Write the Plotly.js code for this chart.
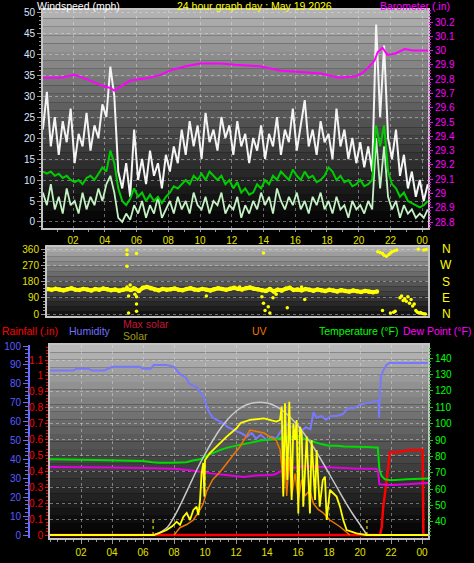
<!DOCTYPE html>
<html><head><meta charset="utf-8">
<script src="https://cdn.plot.ly/plotly-3.0.1.min.js"></script>
<style>html,body{margin:0;padding:0;background:#000;overflow:hidden}#chart{width:474px;height:563px}</style>
</head><body><div id="chart"></div>
<script>
// ---------------- DATA ----------------
const hourTickVals = [2,4,6,8,10,12,14,16,18,20,22,24];
const hourTickText = ['02','04','06','08','10','12','14','16','18','20','22','00'];

// wind (mph), one reading every 15 minutes starting 00:06
const windStart = 0.1, windStep = 0.25;
const windGust = [22,31,18,25,16,24,19,27,14,21, 18,26,17,23,20,28,25,37,30,12, 8,14,6,22,10,15,9,17,11,14,
  8,16,12,18,14,22,16,24,18,23, 15,26,19,22,17,25,20,23,16,24, 18,21,14,20,17,23,15,21,18,25,
  16,22,19,27,17,23,29,18,22,16, 24,19,21,15,27,18,22,15,20,14, 19,13,18,12,47,25,42,20,15,22,
  11,16,8,12,6,10,5,9];
const windAvg = [12,11.5,12,11,11.5,10.5,11,10,9.5,10, 9,10.5,11,10,11.5,13,12,17,14,8, 5,4,5.5,8,6,7,5,6.5,5,6,
  4.5,6,7,8.5,8,9,10,9,11,10, 11.5,10,12,11,10,11,9,10,8,9.5, 7,8,6.5,7,9,8,10,9,11,10,
  12,11,10,12.5,11,10,12,10.5,11,9.5, 10,11,13,12,10,11,9.5,10,8.5,9, 10,8.5,9,10,23,18,23,12,9,8,
  6,7,5,4.5,4,3.5,4,5];
const windSpeed = [7,4,9,3,6,2,8,4,5,2, 7,3,6,4,8,5,9,11,7,1, 0,2,0.5,4,2,5,1,4,2,6,
  1,3,5,2,6,3,5,2,7,4, 3,6,2,5,4,7,2,4,3,6, 1,4,2,5,3,7,4,6,2,8,
  5,3,6,4,7,3,5,2,6,4, 7,3,5,2,6,3,4,1,5,3, 4,2,5,3,20,8,18,6,3,5,
  1,4,2,3,1,2,1,3];

// barometer (inHg)
const baroHours = [0.1,1.2,2.1,3.1,3.7,4.3,4.6,5.0,5.6,6.8,7.5,8.1,9.1,10.0,11.3,12.2,13.8,15.0,16.3,17.6,18.8,19.8,20.2,20.6,21.0,21.2,21.5,21.8,22.3,22.9,23.4,24.37];
const baroValues = [29.81,29.81,29.83,29.79,29.76,29.74,29.72,29.75,29.79,29.81,29.83,29.86,29.89,29.91,29.91,29.90,29.89,29.86,29.85,29.84,29.81,29.82,29.84,29.88,29.93,29.99,30.02,29.97,29.98,30.01,30.00,30.00];

// wind direction (degrees)
const dirStart = 0.4, dirStep = 0.25;
const dirBand = [138,134,140,136,131,137,142,135,133,139,136,130,138,134,141,137,132,136,129,134,
  138,133,140,128,145,150,142,136,131,139,134,137,141,135,132,138,143,136,133,139,
  135,130,137,142,138,134,140,145,139,136,143,147,140,137,132,128,138,125,135,130,
  140,145,133,136,131,138,134,129,136,132,127,134,130,125,132,128,124,130,126,122,
  128,123,120,124];
const dirOutHours = [5.4,5.4,6.0,5.4,5.4,5.6,5.8,5.5,5.9,6.0,6.0,5.5,6.0, 10.4,12.5,
  14.0,13.9,14.0,14.1,14.3,14.4,14.6,14.8, 15.5,16.6,16.4,
  21.2,21.35,21.5,21.6,21.75,21.9,22.0,22.1,22.25,22.4, 21.5,22.0,22.2,22.3,
  22.6,22.7,22.8,22.9,23.0,23.1,23.2,23.3,23.4,23.5, 23.6,23.7,23.8,23.9,24.0,24.1,24.2, 23.75,24.1,24.25];
const dirOutDeg = [354,330,335,265,150,160,145,100,110,95,55,5,15, 100,150,
  338,95,60,20,40,5,90,110, 35,80,150,
  345,340,335,325,320,330,338,345,350,355, 20,5,10,15,
  90,100,75,85,70,95,60,80,45,55, 20,10,5,8,3,2,0, 358,355,357];

// rainfall (in)
const rainHours = [0,21.29,21.4,21.5,21.61,21.72,21.83,21.94,22.37,23.23,24.04,24.09,24.39];
const rainValues = [0,0,0.05,0.18,0.26,0.35,0.47,0.52,0.52,0.535,0.535,0,0];

// humidity (%)
const humHours = [0,0.5,1.0,1.5,1.7,2.5,2.7,3.5,4.0,5.0,5.8,6.0,6.5,6.7,7.5,8.0,8.3,8.8,9.0,9.5,9.9,10.2,10.5,11.0,11.5,12.0,12.3,12.7,13.0,13.3,13.6,14.0,14.3,14.6,14.9,15.2,15.5,15.9,16.2,16.5,16.8,17.0,17.2,17.5,17.8,18.1,18.5,18.9,19.2,19.6,20.0,20.5,21.0,21.2,21.22,21.35,21.5,21.7,21.9,24.39];
const humValues = [87,87,87,87,88,88,87,87,89,89,89,88,88,90,90,89,86,83,80,78,73,66,62,60,57,55,54,52,54,51,53,50,52,51,55,59,57,58,55,57,56,65,62,63,61,63,63,64,67,67,69,70,71,71,62,84,87,90,91,91];

// temperature and dew point (°F)
const tempHours = [0,1,2,3,4,5,6,6.6,7,8,8.8,9.2,9.7,10.0,10.5,11.0,11.5,12.0,12.5,13.0,13.5,14.0,14.5,15.0,15.5,16.0,16.5,17.0,17.5,18.0,18.5,19.0,19.5,20.0,20.5,21.0,21.15,21.25,21.4,21.6,22.0,23.0,24.0,24.39];
const tempValues = [78.2,78.3,78.0,77.8,77.6,77.4,77.2,76.4,76.2,76.2,76.4,77.5,78.2,80,82,84,85.5,86.5,87.5,88.5,89.5,90,90.5,91.5,92,92,90.5,89,87.5,86.5,86.5,86,86,85.8,85.8,85.5,85.5,72,68,66,65.5,66,66.5,66.5];
const dewHours = [0,2,4,6,7,8,9,9.7,10.5,11.5,12.0,12.5,13.0,13.5,14.0,14.5,15.0,15.5,16.0,16.5,17.0,17.5,18.0,19.0,20.0,21.0,21.15,21.25,22.0,23.0,24.0,24.39];
const dewValues = [73.5,73.5,73.2,73,72.8,72.5,71.5,70.5,69.5,68.5,68,67.5,68,68.5,68.5,69,71.5,72.5,73.5,74,73.8,73.5,73,73,72.5,72.5,72,63,62.5,63,63.5,63.8];

// solar radiation (W/m²)
const maxSolarHours = [6.7,7.5,8.0,8.5,9.0,9.5,10.0,10.5,11.0,11.5,12.0,12.5,13.0,13.5,14.0,14.5,15.0,15.5,16.0,16.5,17.0,17.5,18.0,18.5,19.0,19.5,20.0,20.45];
const maxSolarValues = [0,45,120,220,330,440,540,630,710,775,825,860,878,885,880,862,830,785,728,660,585,500,410,320,230,145,70,0];
const solarHours = [0,6.7,7.0,7.53,7.9,8.17,8.39,8.6,8.82,9.03,9.25,9.46,9.57,9.68,9.78,9.89,9.96,10.0,10.3,10.75,11.4,12.05,12.3,12.9,13.8,14.6,14.84,14.95,15.05,15.16,15.31,15.44,15.59,15.70,15.81,15.91,16.02,16.13,16.24,16.34,16.56,16.77,16.88,17.1,17.2,17.4,17.6,17.74,17.85,18.06,18.28,18.49,18.71,18.92,19.14,19.78,20.4,24.39];
const solarValues = [0,0,10,33,60,89,67,120,147,100,167,189,133,233,411,480,256,500,544,589,656,713,747,767,778,756,767,856,256,878,367,889,233,744,633,767,144,722,678,189,656,144,633,233,567,189,367,389,100,300,278,256,189,100,33,11,0,0];

// UV index
const uvHours = [8.0,8.39,8.82,9.25,9.68,9.89,10.1,10.5,10.97,11.4,11.8,12.26,12.9,13.8,14.6,14.84,14.95,15.05,15.16,15.27,15.44,15.59,15.81,16.02,16.24,16.45,16.77,16.99,17.3,17.6,18.06,18.71,19.14,19.35];
const uvValues = [0,0.5,0.7,1.0,1.7,2.1,2.9,3.7,4.2,4.8,5.3,5.9,7.0,6.8,6.3,5.7,4.6,2.8,5.1,2.6,5.2,2.6,4.1,2.3,3.7,2.6,3.0,2.1,1.7,1.5,1.0,0.55,0.2,0];

// sunrise / sunset markers (hours)
const sunEvents = [6.65, 20.45];

// ---------------- CHART ----------------
const W = 474, H = 563;
const px = v => v / W;
const py = v => 1 - v / H;
const windHours = windGust.map((_, i) => windStart + windStep * i);
const dirHours = dirBand.map((_, i) => dirStart + dirStep * i);

const FONT = 'Liberation Sans, Arial, sans-serif';
const GRID = 'rgba(225,225,225,0.45)';
const FRAME = '#c4c4c4';

function bands(xref, yref, top, bottom, n) {
  const out = [];
  for (let i = 0; i < n; i++) {
    const f = Math.pow((i + 0.5) / n, 1.1);
    const c = Math.round(bottom + (top - bottom) * f);
    out.push({type:'rect', xref:xref, yref:yref, x0:0, x1:1, y0:i/n, y1:(i+1)/n,
      fillcolor:'rgb('+c+','+c+','+c+')', line:{width:0}, layer:'below'});
  }
  return out;
}

const traces = [
  {x:windHours, y:windGust, xaxis:'x', yaxis:'y', mode:'lines', line:{color:'#f4f4f4', width:2}},
  {x:windHours, y:windSpeed, xaxis:'x', yaxis:'y', mode:'lines', line:{color:'#c4f2c4', width:1.8}},
  {x:windHours, y:windAvg, xaxis:'x', yaxis:'y', mode:'lines', line:{color:'#00cc00', width:2}},
  {x:baroHours, y:baroValues, xaxis:'x', yaxis:'y2', mode:'lines', line:{color:'#ff00ff', width:2}},

  {x:dirHours, y:dirBand, xaxis:'x2', yaxis:'y3', mode:'lines+markers', line:{color:'#ffff00', width:4}, marker:{color:'#ffff00', size:4.5}},
  {x:dirOutHours, y:dirOutDeg, xaxis:'x2', yaxis:'y3', mode:'markers', marker:{color:'#ffff00', size:3.5}},

  {x:rainHours, y:rainValues, xaxis:'x3', yaxis:'y4', mode:'lines', line:{color:'#ff0000', width:2.5}},
  {x:humHours, y:humValues, xaxis:'x3', yaxis:'y5', mode:'lines', line:{color:'#7878ff', width:2}},
  {x:tempHours, y:tempValues, xaxis:'x3', yaxis:'y6', mode:'lines', line:{color:'#00dd00', width:2}},
  {x:dewHours, y:dewValues, xaxis:'x3', yaxis:'y6', mode:'lines', line:{color:'#e000e0', width:2}},
  {x:uvHours, y:uvValues, xaxis:'x3', yaxis:'y7', mode:'lines', line:{color:'#f07800', width:1.5}},
  {x:maxSolarHours, y:maxSolarValues, xaxis:'x3', yaxis:'y8', mode:'lines', line:{color:'#c8c8c8', width:1.5, shape:'spline'}},
  {x:solarHours, y:solarValues, xaxis:'x3', yaxis:'y8', mode:'lines', line:{color:'#ffff00', width:1.8}}
];
traces.forEach(t => { t.showlegend = false; t.hoverinfo = 'skip'; });

const tf = (c, s) => ({color:c, size:s || 10, family:FONT});

const layout = {
  width:W, height:H, margin:{l:0,r:0,t:0,b:0,pad:0},
  paper_bgcolor:'#000', plot_bgcolor:'#000', showlegend:false,
  font:{family:FONT, color:'#fff'},
  xaxis:{domain:[px(43),px(428)], range:[0.107,24.367], anchor:'y',
    tickmode:'array', tickvals:hourTickVals, ticktext:hourTickText, ticks:'outside', ticklen:2, tickcolor:'#9a9a9a',
    tickfont:tf('#e2e200'), showgrid:true, gridcolor:GRID, griddash:'dot', zeroline:false,
    showline:true, linecolor:FRAME, linewidth:2, mirror:true,
    minor:{tickmode:'linear', tick0:0, dtick:1, ticks:'outside', ticklen:2, tickcolor:'#9a9a9a', showgrid:false}},
  yaxis:{domain:[py(228),py(10)], range:[-1.43,50.48], anchor:'x', tick0:0, dtick:5,
    ticks:'outside', ticklen:4, tickcolor:'#9a9a9a', tickfont:tf('#dce6ff'),
    showgrid:true, gridcolor:GRID, griddash:'dot', zeroline:false,
    showline:true, linecolor:FRAME, linewidth:2, mirror:true,
    minor:{dtick:1, ticks:'outside', ticklen:2, tickcolor:'#9a9a9a', showgrid:false}},
  yaxis2:{overlaying:'y', anchor:'x', side:'right', range:[28.758,30.284], tick0:28.8, dtick:0.1,
    ticks:'outside', ticklen:4, tickcolor:'#ff00ff', tickfont:tf('#ff00ff'),
    showgrid:false, zeroline:false, showline:false,
    minor:{dtick:0.02, ticks:'outside', ticklen:2, tickcolor:'#ff00ff', showgrid:false}},

  xaxis2:{domain:[px(47),px(428)], range:[0.359,24.367], anchor:'y3', showticklabels:false, ticks:'',
    showgrid:false, zeroline:false, showline:true, linecolor:FRAME, linewidth:2, mirror:true},
  yaxis3:{domain:[py(316),py(247)], range:[-11.08,371.1], anchor:'x2', tickmode:'array', tickvals:[0,90,180,270,360],
    ticks:'outside', ticklen:4, tickcolor:'#9a9a9a', tickfont:tf('#e2e200'),
    showgrid:true, gridcolor:GRID, griddash:'dot', zeroline:false,
    showline:true, linecolor:FRAME, linewidth:2, mirror:true,
    minor:{tickmode:'linear', tick0:0, dtick:18, ticks:'outside', ticklen:2, tickcolor:'#9a9a9a', showgrid:false}},

  xaxis3:{domain:[px(50),px(428)], range:[0,24.387], anchor:'y4',
    tickmode:'array', tickvals:hourTickVals, ticktext:hourTickText, ticks:'outside', ticklen:4, tickcolor:'#9a9a9a',
    tickfont:tf('#e2e200'), showgrid:true, gridcolor:GRID, griddash:'dot', zeroline:false,
    showline:true, linecolor:FRAME, linewidth:2, mirror:true,
    minor:{tickmode:'linear', tick0:0, dtick:0.5, ticks:'outside', ticklen:2, tickcolor:'#9a9a9a', showgrid:false}},
  yaxis4:{domain:[py(538),py(345)], range:[-0.01886,1.1943], anchor:'x3', tick0:0, dtick:0.1,
    ticks:'outside', ticklen:3, tickcolor:'#ff0000', tickfont:tf('#ff0000'),
    showgrid:true, gridcolor:GRID, griddash:'dot', zeroline:false,
    showline:true, linecolor:FRAME, linewidth:2, mirror:true,
    minor:{dtick:0.02, ticks:'outside', ticklen:2, tickcolor:'#ff0000', showgrid:false}},
  yaxis5:{overlaying:'y4', anchor:'free', position:px(29), side:'left', range:[-1.587,100.53], tick0:0, dtick:10,
    ticks:'outside', ticklen:5, tickcolor:'#6a6aff', tickfont:tf('#5a5aff'),
    showline:true, linecolor:'#6a6aff', linewidth:2, showgrid:false, zeroline:false,
    minor:{dtick:2, ticks:'outside', ticklen:3, tickcolor:'#6a6aff', showgrid:false}},
  yaxis6:{overlaying:'y4', anchor:'x3', side:'right', range:[30.24,147.93], tickmode:'array',
    tickvals:[40,50,60,70,80,90,100,110,120,130,140],
    ticks:'outside', ticklen:4, tickcolor:'#00dd00', tickfont:tf('#00ff00'),
    showgrid:false, zeroline:false, showline:false,
    minor:{tickmode:'linear', tick0:0, dtick:2, ticks:'outside', ticklen:2, tickcolor:'#00cc00', showgrid:false}},
  yaxis7:{overlaying:'y4', anchor:'x3', range:[-0.2,12.667], visible:false},
  yaxis8:{overlaying:'y4', anchor:'x3', range:[-20,1266.7], visible:false},

  shapes: [].concat(
    bands('x domain','y domain',182,0,26),
    bands('x2 domain','y3 domain',176,16,14),
    bands('x3 domain','y4 domain',188,0,26),
    sunEvents.map(h => ({type:'line', xref:'x3', yref:'y4', x0:h, x1:h, y0:0, y1:0.1,
      line:{color:'#ffff00', width:1, dash:'dot'}, layer:'above'}))
  ),
  annotations: []
};

function label(text, x, y, color, anchor, size) {
  layout.annotations.push({xref:'paper', yref:'paper', x:px(x), y:py(y), xanchor:anchor || 'left', yanchor:'middle',
    text:text, showarrow:false, font:{color:color, size:size || 10.5, family:FONT}});
}
label('Windspeed (mph)', 35, 6, '#ffffff');
label('24 hour graph day : May 19 2026', 254, 6, '#ffff00', 'center');
label('Barometer (.in)', 378, 6, '#ff00ff');
label('Rainfall (.in)', 0, 331, '#ff0000');
label('Humidity', 67, 331, '#7070ff');
label('Max solar', 121, 324, '#c8143c');
label('Solar', 121, 336, '#a09a10');
label('UV', 250, 331, '#f07800');
label('Temperature (°F)', 317, 331, '#00ff00');
label('Dew Point (°F)', 401, 331, '#ff00ff');

const compass = ['N','W','S','E','N'];
const compassDeg = [360,270,180,90,0];
compass.forEach((c, i) => layout.annotations.push({xref:'paper', yref:'y3', x:px(446), y:compassDeg[i],
  xanchor:'center', yanchor:'middle', text:c, showarrow:false, font:{color:'#ffff00', size:12, family:FONT}}));

Plotly.newPlot('chart', traces, layout, {staticPlot:true, displayModeBar:false});
</script>
</body></html>
